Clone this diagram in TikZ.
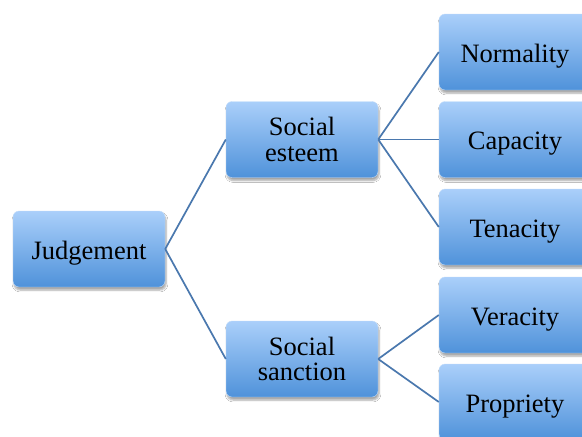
\documentclass[tikz,border=0pt]{standalone}
\usepackage{fontspec}
\setmainfont{Liberation Serif}
\usetikzlibrary{shadows.blur}
\definecolor{boxtop}{HTML}{AACFFA}
\definecolor{boxbot}{HTML}{4F92DA}
\definecolor{linkcol}{HTML}{4A78AE}
\tikzset{
  catbox/.style={rectangle, rounded corners=6pt, minimum width=152pt, minimum height=76pt,
    inner sep=0pt, align=center, top color=boxtop, bottom color=boxbot,
    draw=boxtop!70!white, line width=0.4pt,
    font=\fontsize{26.5}{25.5}\selectfont, text=black,
    blur shadow={shadow xshift=1pt, shadow yshift=-3pt, shadow blur steps=6, shadow opacity=35}},
  oneline/.style={catbox, text height=24pt, text depth=4pt},
  link/.style={draw=linkcol, line width=1.7pt}
}
\begin{document}
\begin{tikzpicture}[x=1pt,y=-1pt]
  \clip (0,0) rectangle (582,437);
  \fill[white] (0,0) rectangle (582,437);
  % root
  \node[oneline] (judg) at (89,249) {Judgement};
  % middle level
  \node[catbox] (est) at (302,139.5) {Social\\esteem};
  \node[catbox] (sanc) at (302,359) {Social\\sanction};
  % leaves
  \node[oneline] (norm) at (515,52) {Normality};
  \node[oneline] (cap) at (515,139.5) {Capacity};
  \node[oneline] (ten) at (515,227) {Tenacity};
  \node[oneline] (ver) at (515,315) {Veracity};
  \node[oneline] (prop) at (515,402) {Propriety};
  % connectors
  \draw[link] (judg.east) -- (est.west);
  \draw[link] (judg.east) -- (sanc.west);
  \draw[link] (est.east) -- (norm.west);
  \draw[link] (est.east) -- (cap.west);
  \draw[link] (est.east) -- (ten.west);
  \draw[link] (sanc.east) -- (ver.west);
  \draw[link] (sanc.east) -- (prop.west);
\end{tikzpicture}
\end{document}
